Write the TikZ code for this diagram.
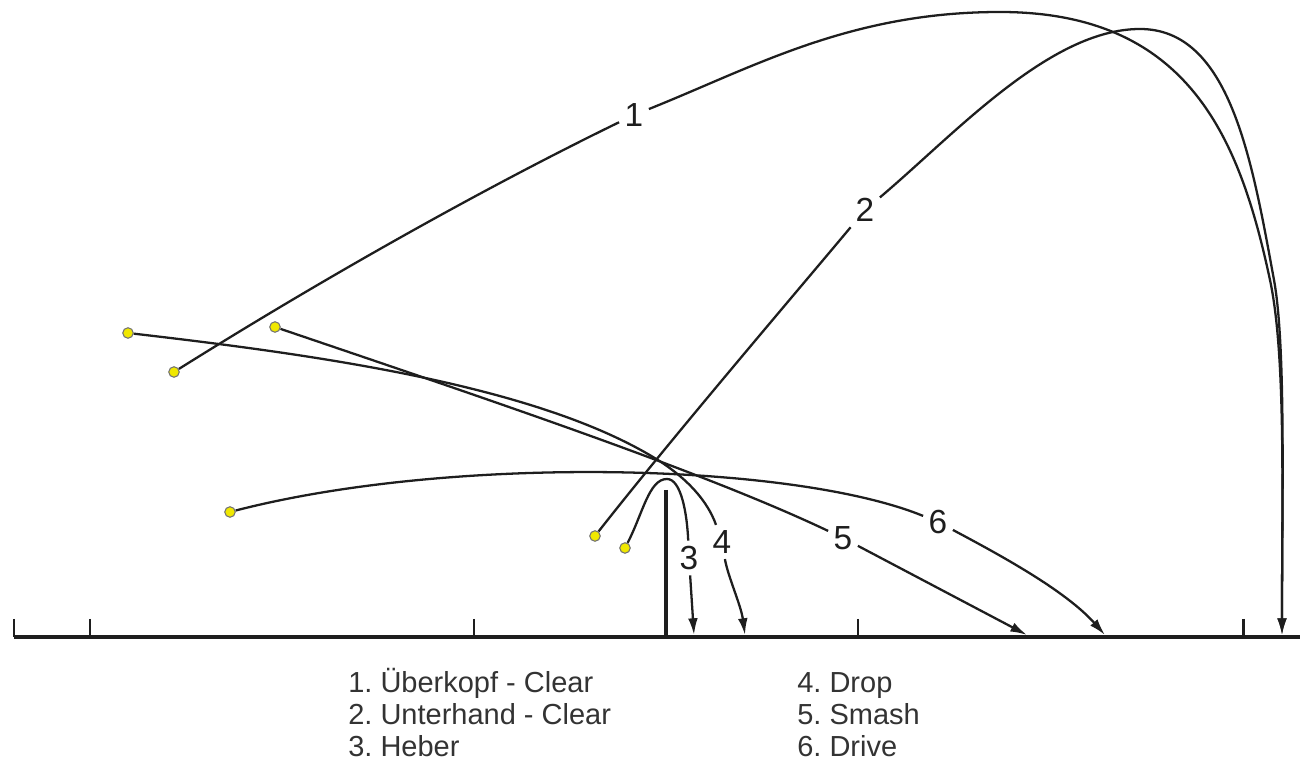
\documentclass[tikz,border=0pt]{standalone}
\usepackage{fontspec}
\setmainfont{Liberation Sans}
\usetikzlibrary{arrows.meta}
\definecolor{ballyellow}{RGB}{240,232,0}
\definecolor{ink}{RGB}{30,30,30}
\begin{document}
\frenchspacing
\begin{tikzpicture}[x=0.02cm,y=-0.02cm,
  traj/.style={draw=ink, line width=1.3pt},
  arr/.style={traj,-{Latex[length=9.5pt,width=5.5pt]}},
  ball/.style={circle,draw=black!55,line width=0.6pt,fill=ballyellow,minimum size=0.21cm,inner sep=0pt},
  lab/.style={font=\fontsize{19}{19}\selectfont, text=ink, inner sep=3pt},
  leg/.style={font=\fontsize{16.5}{16.5}\selectfont, text=black!80, anchor=base west, inner sep=0pt},
  ground/.style={draw=ink, line width=2.3pt},
  tick/.style={draw=ink, line width=1.7pt},
  net/.style={draw=ink, line width=2.8pt}
]
\useasboundingbox (0,0) rectangle (1303,766);
% court
\draw[ground] (14,637) -- (1300,637);
\foreach \x in {14,90,474,858,1243} \draw[tick] (\x,619) -- (\x,637);
\draw[net] (666,490) -- (666,637);
% balls
\node[ball] (D1) at (174,372) {};
\node[ball] (D2) at (595,536) {};
\node[ball] (D3) at (625,548) {};
\node[ball] (D4) at (128,333) {};
\node[ball] (D5) at (275,327) {};
\node[ball] (D6) at (230,512) {};
% labels
\node[lab] (L1) at (634,115) {1};
\node[lab] (L2) at (865,210) {2};
\node[lab] (L3) at (689,558) {3};
\node[lab] (L4) at (722,542) {4};
\node[lab] (L5) at (843,538) {5};
\node[lab] (L6) at (938,522) {6};
% helper coordinates
\coordinate (T1) at (1000,12);
\coordinate (M1) at (1270,280);
\coordinate (E12) at (1282,635);
\coordinate (T2) at (1140,29);
\coordinate (M2) at (1274,280);
\coordinate (A3) at (667,479);
\coordinate (E3) at (694,635);
\coordinate (X4) at (653,457);
\coordinate (E4) at (745,635);
\coordinate (E5) at (1027,635);
\coordinate (E6) at (1105,635);
% 1 Ueberkopf-Clear
\draw[traj] (D1) .. controls +(150,-94) and +(-150,73) .. (L1);
\draw[arr] (L1) .. controls +(120,-48) and +(-150,0) .. (T1)
  .. controls +(190,0) and +(-30,-140) .. (M1)
  .. controls +(16,75) and +(0,-140) .. (E12);
% 2 Unterhand-Clear
\draw[traj] (D2) .. controls +(80,-102) and +(-60,72) .. (L2);
\draw[arr] (L2) .. controls +(90,-76) and +(-90,0) .. (T2)
  .. controls +(90,0) and +(-22,-120) .. (M2)
  .. controls +(12,66) and +(0,-140) .. (E12);
% 3 Heber
\draw[traj] (D3) .. controls +(18,-35) and +(-18,0) .. (A3)
  .. controls +(14,0) and +(-2,-45) .. (L3);
\draw[arr] (L3) -- (E3);
% 4 Drop
\draw[traj] (D4) .. controls +(190,22) and +(-120,-72) .. (X4)
  .. controls +(35,21) and +(-14,-40) .. (L4);
\draw[arr] (L4) .. controls +(6,35) and +(-4,-30) .. (E4);
% 5 Smash
\draw[traj] (D5) .. controls +(200,68) and +(-143,-68) .. (L5);
\draw[arr] (L5) -- (E5);
% 6 Drive
\draw[traj] (D6) .. controls +(220,-57) and +(-147,-60) .. (L6);
\draw[arr] (L6) .. controls +(60,32) and +(-40,-45) .. (E6);
% legend
\node[leg] (G1) at (348,693) {1. Überkopf - Clear};
\node[leg] (G2) at (348,725) {2. Unterhand - Clear};
\node[leg] (G3) at (348,757) {3. Heber};
\node[leg] (G4) at (797,693) {4. Drop};
\node[leg] (G5) at (797,725) {5. Smash};
\node[leg] (G6) at (797,757) {6. Drive};
\end{tikzpicture}
\end{document}
